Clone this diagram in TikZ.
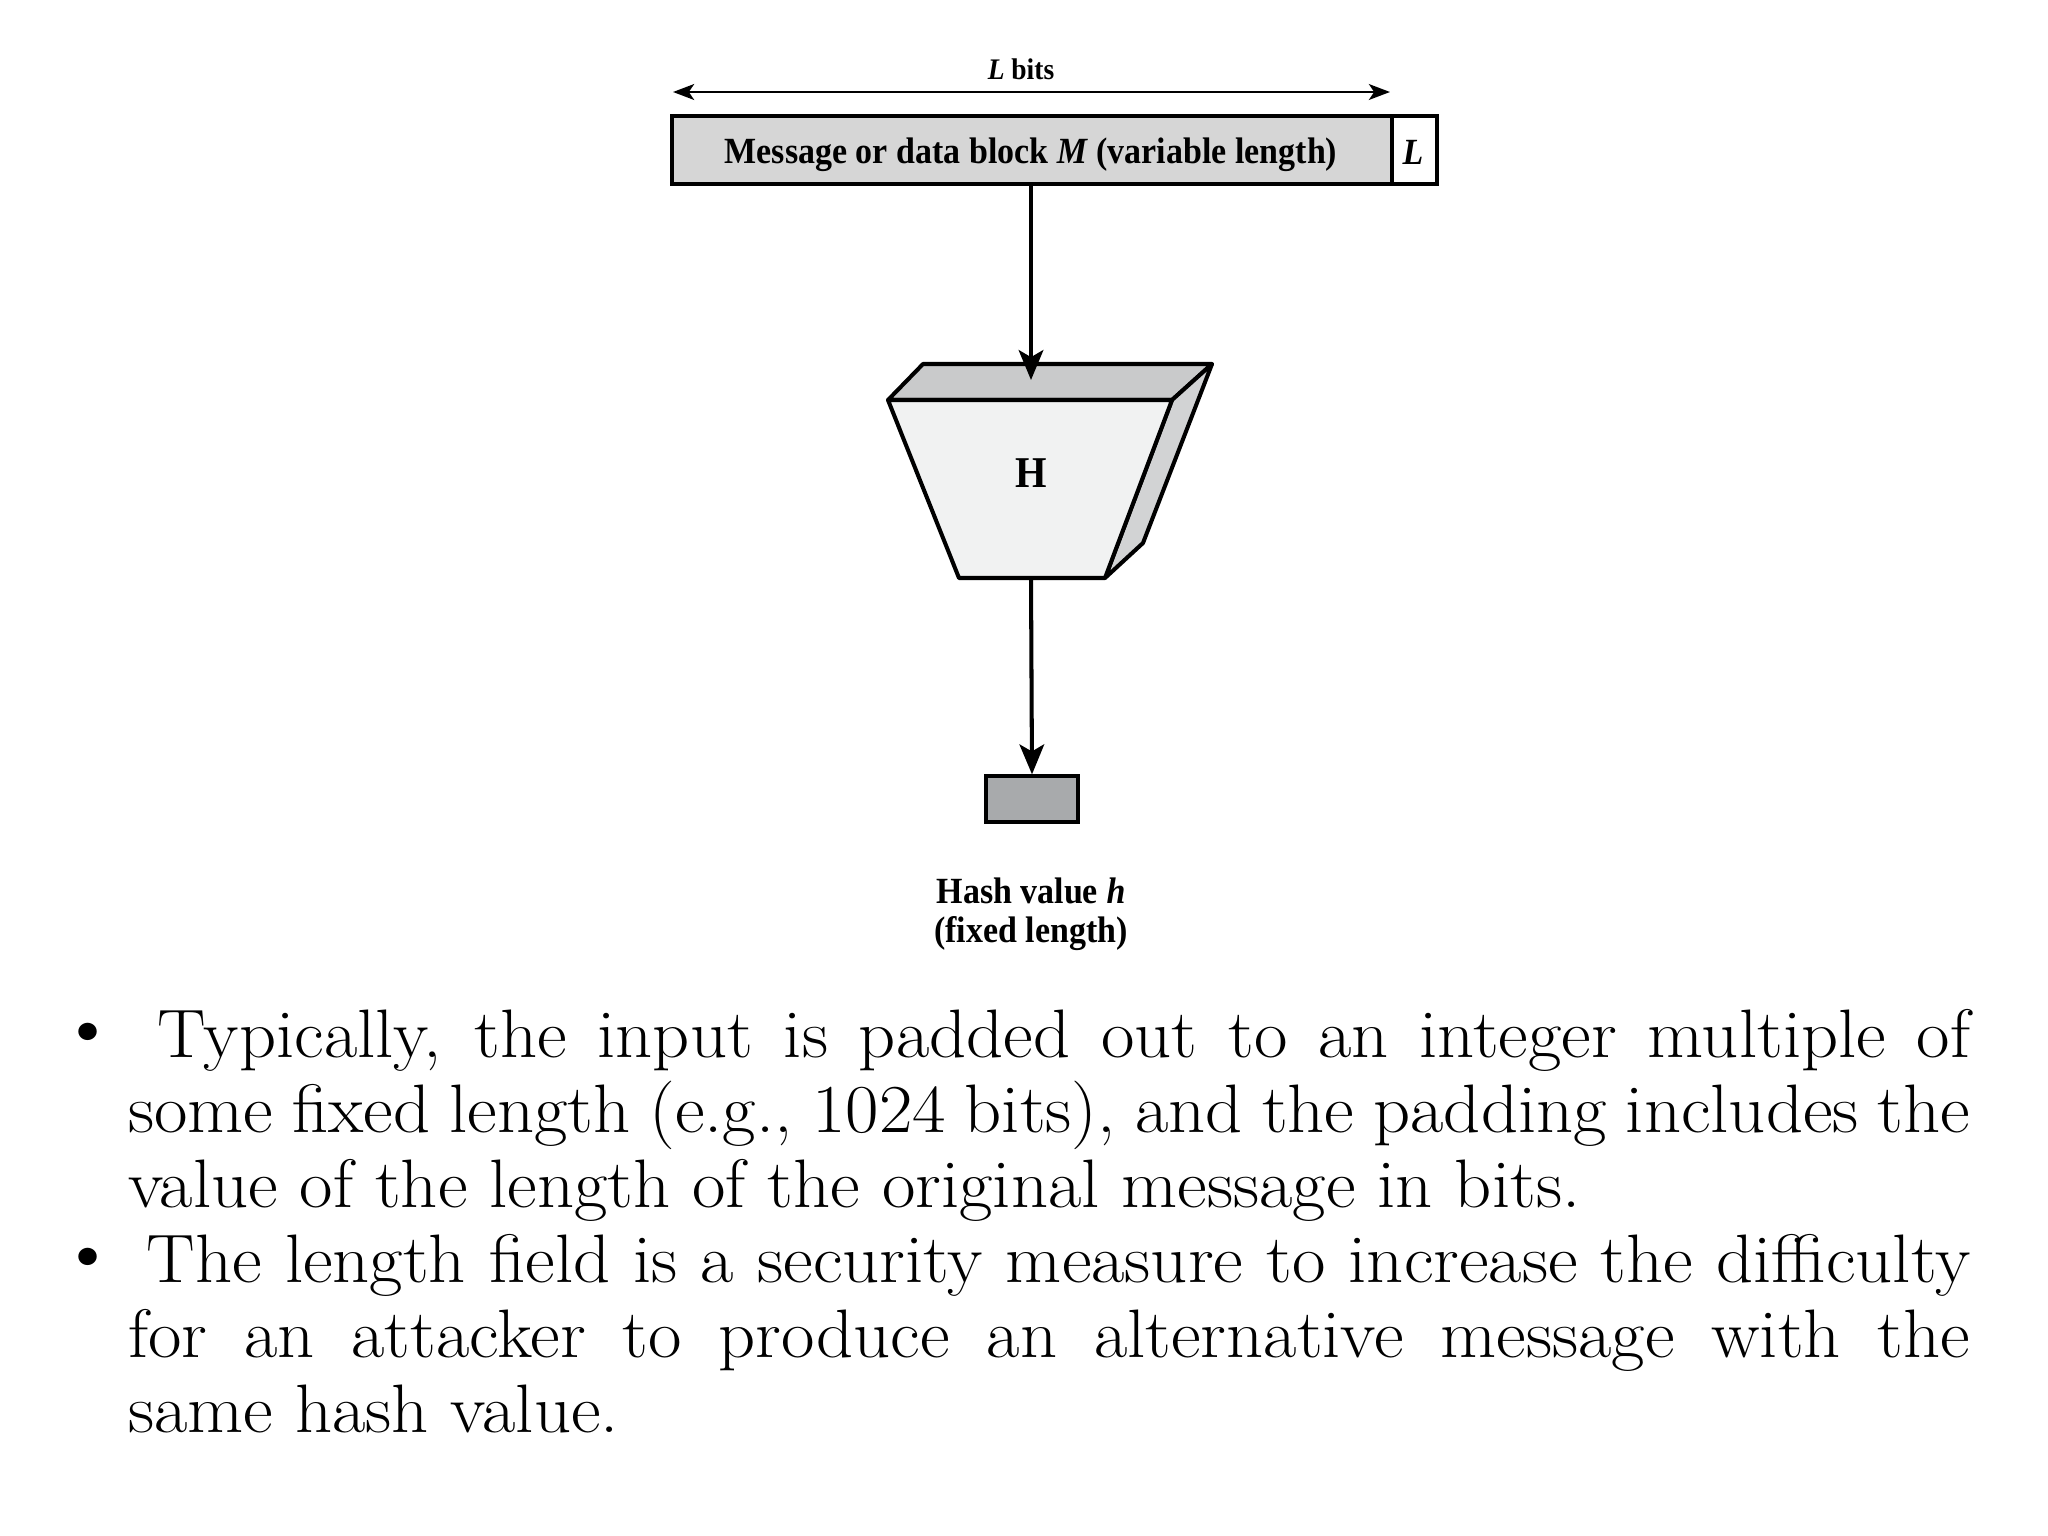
\documentclass[tikz,border=0pt]{standalone}
\usepackage{fontspec}
\newfontfamily\diagfont[FakeStretch=0.92]{Liberation Serif}
\newfontfamily\bodyfont[FakeStretch=1.06]{Latin Modern Roman}
\usetikzlibrary{arrows.meta}
\definecolor{msgfill}{HTML}{D6D6D6}
\definecolor{frontfill}{HTML}{F1F2F2}
\definecolor{topfill}{HTML}{C9CACB}
\definecolor{sidefill}{HTML}{D2D3D4}
\definecolor{hashfill}{HTML}{A8AAAC}
\tikzset{
  box/.style={draw=black, line width=1.15pt, inner sep=0pt},
  boxtext/.style={inner sep=0pt, font=\diagfont\bfseries\fontsize{10.5pt}{12pt}\selectfont},
  conn/.style={draw=black, line width=1.15pt, -{Stealth[length=8.5pt,width=7pt,inset=2pt]}},
  dim/.style={draw=black, line width=0.7pt, {Stealth[length=6pt,width=4.5pt,inset=1.5pt]}-{Stealth[length=6pt,width=4.5pt,inset=1.5pt]}},
  label/.style={inner sep=0pt, font=\diagfont\bfseries\fontsize{10.5pt}{11pt}\selectfont, align=center},
  body/.style={inner sep=0pt, font=\bodyfont\fontsize{19.5pt}{21.34pt}\selectfont},
  bullet/.style={inner sep=0pt, font=\bodyfont\fontsize{22pt}{24pt}\selectfont},
  face/.style={draw=black, line width=1.15pt, line join=round}
}
\begin{document}
\begin{tikzpicture}[x=0.01cm, y=-0.01cm]
\useasboundingbox (0,0) rectangle (2048,1536);

% top dimension arrow
\coordinate (la) at (673,92);
\coordinate (lb) at (1390,92);
\draw[dim] (la) -- (lb);
\node[inner sep=0pt, font=\diagfont\bfseries\fontsize{8.5pt}{10pt}\selectfont, anchor=base] (lbits) at (1021,79) {\textit{L} bits};

% message box
\node[box, fill=msgfill, minimum width=7.2cm, minimum height=0.68cm] (msg) at (1032,150) {};
\node[boxtext] (msgtext) at (1031,155) {Message or data block \textit{M} (variable length)};
\node[box, fill=white, minimum width=0.45cm, minimum height=0.68cm] (lbox) at (1414.5,150) {};
\node[boxtext] (ltext) at (1413,152) {\textit{L}};

% H function block
\coordinate (fa) at (888,400);
\coordinate (fb) at (1172,400);
\coordinate (fc) at (1105,578);
\coordinate (fd) at (959,578);
\coordinate (ta) at (923,364);
\coordinate (tb) at (1212,364);
\coordinate (sc) at (1143,543);
\draw[face, fill=topfill] (fa) -- (ta) -- (tb) -- (fb) -- cycle;
\draw[face, fill=sidefill] (fb) -- (tb) -- (sc) -- (fc) -- cycle;
\draw[face, fill=frontfill] (fa) -- (fb) -- (fc) -- (fd) -- cycle;
\node[inner sep=0pt, font=\diagfont\bfseries\fontsize{12.5pt}{14pt}\selectfont] (H) at (1031,473) {H};
\coordinate (htop) at (1031,380);
\coordinate (hbot) at (1031,578);

% hash box
\node[box, fill=hashfill, line width=0.95pt, minimum width=0.92cm, minimum height=0.46cm] (hash) at (1032,799) {};
\node[label, anchor=north] (hashlbl) at (1031,877) {Hash value \textit{h}\\(fixed length)};

% connectors
\draw[conn] (msg.south -| htop) -- (htop);
\draw[conn] (hbot) -- (hash.north);

% body text
\node[bullet, anchor=center] (b1) at (88,1038) {\textbullet};
\node[body, anchor=base west] (p1) at (127.5,1057) {\parbox[t]{18.41cm}{\hyphenpenalty=10000\tolerance=10000\emergencystretch=3em
\hspace*{0.29cm}Typically, the input is padded out to an integer multiple of\linebreak
some fixed length (e.g., 1024 bits), and the padding includes the\linebreak
value of the length of the original message in bits.}};
\node[bullet, anchor=center] (b2) at (88,1263) {\textbullet};
\node[body, anchor=base west] (p2) at (127.5,1282) {\parbox[t]{18.41cm}{\hyphenpenalty=10000\tolerance=10000\emergencystretch=3em
\hspace*{0.185cm}The length field is a security measure to increase the difficulty\linebreak
for an attacker to produce an alternative message with the\linebreak
same hash value.}};
\end{tikzpicture}
\end{document}
